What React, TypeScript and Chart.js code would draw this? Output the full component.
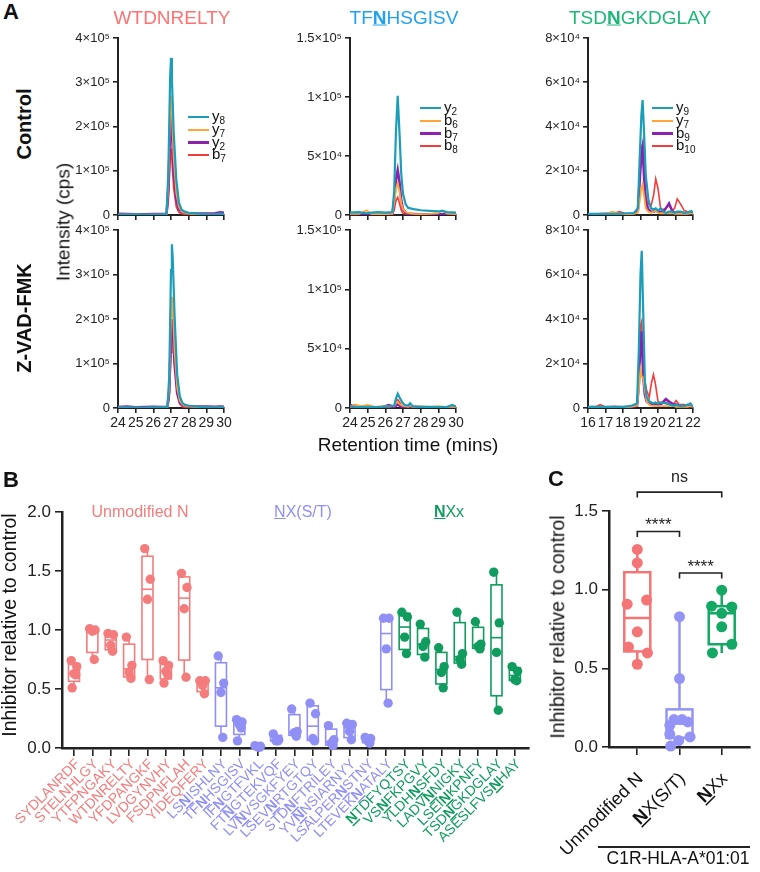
import React, { useEffect, useRef } from 'react';
import { Chart, registerables } from 'chart.js';
Chart.register(...registerables);

const FONT = '"Liberation Sans", Arial, Helvetica, sans-serif';
Chart.defaults.font.family = FONT;
Chart.defaults.color = '#222';

// ---------------- Panel A data (retention time, intensity in cps) ----------------
const TRACE_COLORS = ['#1C9DB9', '#FFA53A', '#8B22AA', '#F23C3C'];
const TRACE_WIDTHS = [2.2, 1.8, 2.6, 1.6];

const A_TITLES = ['WTDNRELTY', 'TFNHSGISV', 'TSDNGKDGLAY'];
const A_TITLE_BOLD = [-1, 2, 3];
const A_TITLE_COLORS = ['#FF7272', '#1FA2F0', '#1DB877'];
const A_ION_NAMES = [['y', 'y', 'y', 'b'], ['y', 'b', 'b', 'b'], ['y', 'y', 'b', 'b']];
const A_ION_SUBS = [['8', '7', '2', '7'], ['2', '6', '7', '8'], ['9', '7', '9', '10']];
const A_XMIN = [24, 24, 16];
const A_XMAX = [30, 30, 22];
const A_YMAX = [400000, 150000, 80000];
const A_YSTEP = [100000, 50000, 20000];

// WTDNRELTY control
const P1C_T = [24, 24.5, 25, 25.5, 26, 26.5, 26.75, 26.85, 26.95, 27.0, 27.05, 27.15, 27.3, 27.45, 27.6, 27.8, 28.0, 28.5, 29, 29.5, 29.8, 30];
const P1C_Y8 = [1500, 1000, 1200, 800, 1000, 1500, 3000, 100000, 310000, 355000, 310000, 190000, 80000, 28000, 12000, 7000, 5000, 3000, 2000, 1500, 3000, 2000];
const P1C_Y7 = [800, 600, 900, 500, 700, 1000, 2000, 75000, 235000, 270000, 230000, 130000, 50000, 18000, 8000, 5000, 3000, 2000, 1500, 1000, 2000, 1500];
const P1C_Y2 = [2500, 2000, 1500, 1800, 2200, 2000, 2500, 60000, 190000, 230000, 195000, 100000, 35000, 13000, 7000, 5000, 4000, 3500, 3000, 4000, 6000, 5000];
const P1C_B7 = [500, 400, 600, 300, 500, 600, 1000, 30000, 120000, 150000, 125000, 60000, 18000, 6000, 3000, 2000, 1500, 1000, 800, 700, 1000, 800];
// WTDNRELTY Z-VAD-FMK
const P1Z_T = [24, 24.5, 25, 25.5, 26, 26.5, 26.8, 26.9, 27.0, 27.05, 27.1, 27.2, 27.35, 27.5, 27.65, 27.8, 28.0, 28.5, 29, 29.5, 29.8, 30];
const P1Z_Y8 = [1000, 1500, 800, 1000, 1200, 1500, 3000, 70000, 310000, 368000, 335000, 210000, 75000, 26000, 11000, 7000, 5000, 3000, 2000, 1500, 1500, 2000];
const P1Z_Y7 = [800, 600, 900, 500, 700, 1000, 2000, 45000, 205000, 250000, 230000, 130000, 45000, 16000, 8000, 5000, 3500, 2000, 1500, 1000, 1500, 1500];
const P1Z_Y2 = [2000, 3000, 1500, 2000, 2500, 2000, 2500, 38000, 165000, 200000, 185000, 100000, 33000, 12000, 7000, 5000, 4000, 3500, 3000, 2500, 3000, 2500];
const P1Z_B7 = [500, 400, 600, 300, 500, 600, 1000, 22000, 125000, 172000, 176000, 150000, 35000, 9000, 3000, 2000, 1500, 1000, 800, 700, 1000, 800];
// TFNHSGISV control
const P2C_T = [24, 24.5, 24.95, 25.2, 25.6, 26, 26.4, 26.5, 26.6, 26.7, 26.8, 26.9, 27.0, 27.15, 27.3, 27.6, 28, 28.5, 29, 29.2, 29.5, 30];
const P2C_Y2 = [2000, 2500, 1500, 2000, 2500, 2000, 2500, 20000, 70000, 101000, 70000, 35000, 18000, 9000, 6000, 5000, 4000, 3500, 3000, 3500, 2500, 2000];
const P2C_B6 = [1000, 1000, 4000, 800, 1000, 800, 1000, 10000, 22000, 27000, 20000, 10000, 5000, 2500, 1500, 1000, 800, 1000, 1500, 4000, 1200, 800];
const P2C_B7 = [500, 500, 500, 500, 500, 500, 800, 12000, 30000, 38000, 28000, 12000, 5000, 2000, 1000, 800, 600, 600, 500, 500, 500, 500];
const P2C_B8 = [300, 300, 300, 300, 300, 300, 500, 4000, 12000, 15000, 10000, 4000, 1500, 800, 500, 400, 300, 300, 300, 300, 300, 300];
// TFNHSGISV Z-VAD-FMK
const P2Z_T = [24, 24.3, 24.6, 25, 25.4, 25.8, 26.2, 26.5, 26.6, 26.7, 26.8, 26.95, 27.1, 27.3, 27.4, 27.55, 28, 28.5, 29, 29.5, 29.8, 30];
const P2Z_Y2 = [1500, 1000, 800, 1000, 800, 1000, 1500, 2000, 8000, 12000, 9000, 5000, 2500, 2000, 4000, 1500, 1000, 1000, 800, 1000, 2500, 1000];
const P2Z_B6 = [1000, 3000, 1500, 2500, 1000, 1500, 1500, 1500, 4000, 5000, 3500, 2000, 1500, 1000, 2000, 1000, 1500, 1000, 1500, 1000, 1000, 800];
const P2Z_B7 = [2500, 1000, 800, 800, 600, 600, 2500, 800, 2000, 3000, 2000, 1000, 800, 600, 1000, 600, 500, 500, 500, 500, 500, 500];
const P2Z_B8 = [500, 500, 500, 500, 500, 500, 500, 1500, 6000, 7000, 5000, 2000, 1000, 500, 500, 500, 500, 500, 500, 500, 500, 500];
// TSDNGKDGLAY control
const P3C_T = [16, 16.5, 17, 17.4, 17.8, 18.2, 18.6, 18.85, 18.95, 19.05, 19.12, 19.2, 19.3, 19.45, 19.6, 19.75, 19.87, 20.0, 20.15, 20.3, 20.45, 20.63, 20.8, 20.95, 21.1, 21.3, 21.5, 21.7, 21.9, 22];
const P3C_Y9 = [500, 500, 500, 500, 500, 800, 800, 3000, 25000, 45000, 52000, 38000, 18000, 7000, 3000, 2500, 3000, 2000, 3000, 1500, 1000, 1500, 1500, 1000, 1500, 1500, 1000, 1200, 1800, 800];
const P3C_Y7 = [300, 300, 500, 1500, 500, 300, 500, 1000, 6000, 12000, 13800, 9000, 3000, 1500, 1000, 1500, 2000, 1000, 800, 800, 800, 800, 800, 500, 500, 500, 500, 500, 800, 500];
const P3C_B9 = [300, 300, 300, 300, 300, 300, 500, 2000, 15000, 28000, 31000, 18000, 6000, 2500, 1500, 1500, 2000, 1500, 1500, 1500, 3000, 5200, 2000, 1000, 1000, 1000, 800, 800, 1200, 800];
const P3C_B10 = [500, 500, 800, 600, 1500, 500, 800, 2000, 15000, 30000, 32000, 20000, 8000, 5000, 4000, 9000, 16300, 12000, 3000, 2500, 3000, 5000, 2000, 3000, 7300, 4800, 2000, 1500, 1500, 800];
// TSDNGKDGLAY Z-VAD-FMK
const P3Z_T = [16, 16.5, 16.7, 17, 17.5, 18, 18.4, 18.8, 18.9, 19.0, 19.07, 19.15, 19.25, 19.35, 19.5, 19.62, 19.74, 19.85, 20.0, 20.2, 20.45, 20.7, 20.9, 21.04, 21.2, 21.5, 21.7, 21.85, 22];
const P3Z_Y9 = [500, 500, 500, 500, 500, 500, 800, 2000, 25000, 60000, 70700, 45000, 12000, 5000, 3000, 2500, 2000, 2500, 2000, 2500, 2000, 1500, 1000, 1500, 1000, 1000, 1500, 2100, 500];
const P3Z_Y7 = [300, 300, 300, 300, 300, 300, 500, 1000, 8000, 17300, 14000, 13800, 8000, 3000, 1500, 1000, 1000, 800, 800, 800, 800, 800, 800, 500, 500, 500, 500, 800, 500];
const P3Z_B9 = [300, 300, 300, 300, 300, 300, 500, 1000, 10000, 30000, 34400, 15000, 6000, 3000, 2000, 1500, 1500, 2000, 1500, 2000, 4000, 2500, 1500, 1500, 1000, 800, 800, 1000, 500];
const P3Z_B10 = [500, 800, 1500, 500, 800, 500, 500, 1000, 12000, 37000, 39000, 20000, 12000, 8000, 4800, 11000, 15000, 11000, 3000, 2000, 2500, 1500, 2000, 3300, 1500, 1500, 1000, 1000, 500];

// ---------------- Panel B data ----------------
const GROUP_COLORS = ['#F47C7C', '#8F8FF6', '#109C5E'];
const B_LABELS = ['SYDLANRDF', 'STELNHLGY', 'YTFPNGAKY', 'WTDNRELTY', 'YFDPANGKF', 'LVDGYNVHY', 'FSDPNFLAH', 'YIDEQFERY',
  'LSNISHLNY', 'TFNHSGISV', 'IFNGTFVKL', 'FTNGTEKVQF', 'LVNVSGKFYEY', 'LSEVNRTGTQY', 'STDNFTRILEY', 'YVNNSIARNYY', 'LSALPERNSTNY', 'LTEVEKNATALY',
  'NTDFYQTSY', 'VSNFKPGVY', 'YLDHNSFDY', 'LADVNNIGKY', 'LSEINKPNFY', 'TSDNGKDGLAY', 'ASESLFVSNHAY'];
const B_BOLD = [-1, -1, -1, -1, -1, -1, -1, -1, 2, 2, 2, 2, 2, 4, 3, 2, 7, 6, 0, 2, 4, 4, 4, 3, 8];
const B_GROUP = [0, 0, 0, 0, 0, 0, 0, 0, 1, 1, 1, 1, 1, 1, 1, 1, 1, 1, 2, 2, 2, 2, 2, 2, 2];
const B_VALUES = [
  [0.74, 0.69, 0.63, 0.62, 0.51],
  [1.01, 1.0, 0.99, 0.75],
  [0.97, 0.96, 0.87, 0.82],
  [0.94, 0.7, 0.64, 0.59],
  [1.69, 1.43, 1.26, 0.58],
  [0.74, 0.7, 0.65, 0.62, 0.55],
  [1.48, 1.36, 1.18, 0.6],
  [0.57, 0.57, 0.53, 0.46],
  [0.78, 0.55, 0.47, 0.09],
  [0.24, 0.22, 0.2, 0.17, 0.06],
  [0.02, 0.015, 0.01, 0.005],
  [0.12, 0.07, 0.06, 0.06],
  [0.33, 0.14, 0.13, 0.1],
  [0.38, 0.29, 0.08, 0.06],
  [0.19, 0.07, 0.04, 0.02],
  [0.21, 0.2, 0.14, 0.07],
  [0.09, 0.08, 0.06, 0.04],
  [1.1, 1.1, 0.84, 0.38],
  [1.15, 1.11, 0.94, 0.8],
  [1.05, 0.9, 0.86, 0.77],
  [0.85, 0.69, 0.64, 0.51],
  [1.15, 0.8, 0.75, 0.71],
  [1.07, 0.88, 0.86, 0.84],
  [1.49, 1.06, 0.81, 0.32],
  [0.69, 0.65, 0.58, 0.57],
];
const B_JITTER = [-0.15, 0.15, 0, 0.1, -0.1];
const B_Y_TICKS = [0, 0.5, 1.0, 1.5, 2.0];
const B_GROUP_TITLES = ['Unmodified N', 'NX(S/T)', 'NXx'];

// ---------------- Panel C data ----------------
const C_LABELS = ['Unmodified N', 'NX(S/T)', 'NXx'];
const C_BOLD = [-1, 0, 0];
const C_COLORS = ['#F47575', '#9494F7', '#13A864'];
const C_UNMOD = [1.256, 1.17, 0.908, 0.934, 0.732, 0.636, 0.598, 0.526];
const C_UNMOD_J = [0, 0, -0.24, 0.22, 0, -0.21, 0.24, 0];
const C_NXST = [0.828, 0.435, 0.174, 0.174, 0.159, 0.138, 0.081, 0.064, 0.042, 0.006];
const C_NXST_J = [0, 0, -0.13, 0.06, 0.2, -0.23, -0.23, 0.25, -0.02, -0.21];
const C_NXX = [0.997, 0.895, 0.89, 0.85, 0.764, 0.653, 0.598];
const C_NXX_J = [0, -0.24, 0.24, 0, 0, 0.24, -0.22];
const C_Y_TICKS = [0, 0.5, 1.0, 1.5];
const C_SIG_FROM = [0, 1, 0];
const C_SIG_TO = [1, 2, 2];
const C_SIG_Y = [1.37, 1.106, 1.62];
const C_SIG_TEXT = ['****', '****', 'ns'];

// ---------------- helpers ----------------
type Rect = { x: number; y: number; w: number; h: number };
type Plot = { l: number; t: number; r: number; b: number };

function frame(c: Rect, p: Plot) {
  return {
    padding: { left: 0, top: p.t - c.y, right: c.x + c.w - p.r, bottom: 0 },
    yW: p.l - c.x,
    xH: c.y + c.h - p.b,
  };
}

const SUP: Record<string, string> = { '0': '⁰', '1': '¹', '2': '²', '3': '³', '4': '⁴', '5': '⁵', '6': '⁶', '7': '⁷', '8': '⁸', '9': '⁹' };
function sci(v: number) {
  if (v === 0) return '0';
  const e = Math.floor(Math.log10(v) + 1e-9);
  const m = +(v / Math.pow(10, e)).toFixed(2);
  return `${m}×10${String(e).split('').map((c) => SUP[c]).join('')}`;
}

function quant(s: number[], p: number) {
  const n = s.length;
  const pos = p * (n + 1);
  if (pos <= 1) return s[0];
  if (pos >= n) return s[n - 1];
  const lo = Math.floor(pos);
  return s[lo - 1] + (pos - lo) * (s[lo] - s[lo - 1]);
}

function axisStyle(tickLen: number, bw: number) {
  return {
    border: { display: true, color: '#222', width: bw },
    grid: { display: true, drawOnChartArea: false, drawTicks: true, tickLength: tickLen, color: '#222', lineWidth: 1.6 },
  };
}

function ChartCanvas({ rect, build }: { rect: Rect; build: () => any }) {
  const ref = useRef<HTMLCanvasElement>(null);
  useEffect(() => {
    const chart = new Chart(ref.current as HTMLCanvasElement, build());
    return () => chart.destroy();
  }, []);
  return (
    <div style={{ position: 'absolute', left: rect.x, top: rect.y, width: rect.w, height: rect.h }}>
      <canvas ref={ref} width={rect.w} height={rect.h} style={{ width: rect.w, height: rect.h, display: 'block' }} />
    </div>
  );
}

function chromConfig(col: number, times: number[], series: number[][], showX: boolean, c: Rect, p: Plot) {
  const f = frame(c, p);
  return {
    type: 'line',
    data: {
      datasets: series.map((vals, k) => ({
        data: times.map((t, i) => ({ x: t, y: vals[i] })),
        borderColor: TRACE_COLORS[k],
        borderWidth: TRACE_WIDTHS[k],
        pointRadius: 0,
        tension: 0,
        fill: false,
      })),
    },
    options: {
      animation: false,
      responsive: false,
      maintainAspectRatio: false,
      events: [],
      layout: { padding: f.padding },
      plugins: { legend: { display: false }, tooltip: { enabled: false } },
      scales: {
        x: {
          type: 'linear',
          min: A_XMIN[col],
          max: A_XMAX[col],
          ...axisStyle(5, 2),
          ticks: { display: showX, stepSize: 1, autoSkip: false, maxRotation: 0, font: { size: 14 }, color: '#222', padding: 2 },
          afterFit: (s: any) => { s.height = f.xH; s.paddingLeft = 0; s.paddingRight = 0; },
        },
        y: {
          min: 0,
          max: A_YMAX[col],
          ...axisStyle(5, 2),
          ticks: { stepSize: A_YSTEP[col], autoSkip: false, callback: (v: number) => sci(v), font: { size: 13 }, color: '#222', padding: 3 },
          afterFit: (s: any) => { s.width = f.yW; s.paddingTop = 0; s.paddingBottom = 0; },
        },
      },
    },
  };
}

function boxPlugin(cats: number[][], colors: string[], halfPx: number, lw: number) {
  return {
    id: 'boxes',
    beforeDatasetsDraw(chart: any) {
      const { ctx, scales } = chart;
      const x = scales.x, y = scales.y;
      ctx.save();
      cats.forEach((vals, i) => {
        const s = [...vals].sort((a, b) => a - b);
        const q1 = quant(s, 0.25), med = quant(s, 0.5), q3 = quant(s, 0.75);
        const cx = x.getPixelForValue(i);
        ctx.strokeStyle = colors[i];
        ctx.lineWidth = lw;
        ctx.beginPath();
        ctx.moveTo(cx, y.getPixelForValue(s[0]));
        ctx.lineTo(cx, y.getPixelForValue(q1));
        ctx.moveTo(cx, y.getPixelForValue(q3));
        ctx.lineTo(cx, y.getPixelForValue(s[s.length - 1]));
        ctx.stroke();
        const top = y.getPixelForValue(q3), bot = y.getPixelForValue(q1);
        ctx.strokeRect(cx - halfPx, top, 2 * halfPx, bot - top);
        const my = y.getPixelForValue(med);
        ctx.beginPath();
        ctx.moveTo(cx - halfPx, my);
        ctx.lineTo(cx + halfPx, my);
        ctx.stroke();
      });
      ctx.restore();
    },
  };
}

function labelPlugin(labels: string[], bold: number[], colors: string[], size: number, dx: number, dy: number) {
  return {
    id: 'xlabels',
    afterDraw(chart: any) {
      const { ctx, scales, chartArea } = chart;
      const normal = `${size}px ${FONT}`;
      const bf = `bold ${size}px ${FONT}`;
      const capH = size * 0.716;
      labels.forEach((lab, i) => {
        const ax = scales.x.getPixelForValue(i) + dx;
        const ay = chartArea.bottom + dy;
        const bi = bold[i];
        const parts: [string, string, boolean][] = bi >= 0
          ? [[lab.slice(0, bi), normal, false], [lab[bi], bf, true], [lab.slice(bi + 1), normal, false]]
          : [[lab, normal, false]];
        ctx.save();
        ctx.translate(ax, ay);
        ctx.rotate(-Math.PI / 4);
        ctx.fillStyle = colors[i];
        ctx.textAlign = 'left';
        ctx.textBaseline = 'alphabetic';
        const widths = parts.map(([t, f]) => { ctx.font = f; return ctx.measureText(t).width; });
        let cur = -widths.reduce((a, b) => a + b, 0);
        parts.forEach(([t, f, u], k) => {
          ctx.font = f;
          ctx.fillText(t, cur, capH / 2);
          if (u) ctx.fillRect(cur, capH / 2 + 1.5, widths[k], 1.5);
          cur += widths[k];
        });
        ctx.restore();
      });
    },
  };
}

function sigPlugin() {
  return {
    id: 'sig',
    afterDraw(chart: any) {
      const { ctx, scales } = chart;
      ctx.save();
      ctx.strokeStyle = '#222';
      ctx.fillStyle = '#222';
      ctx.lineWidth = 1.6;
      ctx.textAlign = 'center';
      ctx.textBaseline = 'alphabetic';
      C_SIG_TEXT.forEach((txt, i) => {
        const xa = scales.x.getPixelForValue(C_SIG_FROM[i]);
        const xb = scales.x.getPixelForValue(C_SIG_TO[i]);
        const yy = scales.y.getPixelForValue(C_SIG_Y[i]);
        ctx.beginPath();
        ctx.moveTo(xa, yy + 5.5);
        ctx.lineTo(xa, yy);
        ctx.lineTo(xb, yy);
        ctx.lineTo(xb, yy + 5.5);
        ctx.stroke();
        const star = txt.indexOf('*') >= 0;
        ctx.font = `${star ? 17 : 16}px ${FONT}`;
        ctx.fillText(txt, (xa + xb) / 2, yy - (star ? 1 : 10));
      });
      ctx.restore();
    },
  };
}

function boxChartConfig(opts: {
  c: Rect; p: Plot; xmin: number; xmax: number; ymax: number; yticks: number[];
  cats: number[][]; catColors: string[]; groups: { pts: { x: number; y: number }[]; color: string }[];
  halfPx: number; lw: number; radius: number; labels: string[]; bold: number[]; labelColors: string[];
  labelSize: number; ldx: number; ldy: number; extra: any[];
}) {
  const f = frame(opts.c, opts.p);
  return {
    type: 'scatter',
    data: {
      datasets: opts.groups.map((g) => ({
        data: g.pts,
        backgroundColor: g.color,
        borderWidth: 0,
        pointRadius: opts.radius,
        clip: false,
      })),
    },
    options: {
      animation: false,
      responsive: false,
      maintainAspectRatio: false,
      events: [],
      layout: { padding: f.padding },
      plugins: { legend: { display: false }, tooltip: { enabled: false } },
      scales: {
        x: {
          type: 'linear',
          min: opts.xmin,
          max: opts.xmax,
          ...axisStyle(8, 2.5),
          ticks: { display: false },
          afterBuildTicks: (s: any) => { s.ticks = opts.labels.map((_, i) => ({ value: i })); },
          afterFit: (s: any) => { s.height = f.xH; s.paddingLeft = 0; s.paddingRight = 0; },
        },
        y: {
          min: 0,
          max: opts.ymax,
          ...axisStyle(7, 2.5),
          ticks: { autoSkip: false, callback: (v: number) => v.toFixed(1), font: { size: 17 }, color: '#222', padding: 4 },
          afterBuildTicks: (s: any) => { s.ticks = opts.yticks.map((v) => ({ value: v })); },
          afterFit: (s: any) => { s.width = f.yW; s.paddingTop = 0; s.paddingBottom = 0; },
        },
      },
    },
    plugins: [
      boxPlugin(opts.cats, opts.catColors, opts.halfPx, opts.lw),
      labelPlugin(opts.labels, opts.bold, opts.labelColors, opts.labelSize, opts.ldx, opts.ldy),
      ...opts.extra,
    ],
  };
}

function Label(props: { x: number; y: number; rot?: number; size: number; weight?: number; color?: string; children: any }) {
  const { x, y, rot = 0, size, weight = 400, color = '#111', children } = props;
  return (
    <div style={{
      position: 'absolute', left: x, top: y, transform: `translate(-50%,-50%) rotate(${rot}deg)`,
      fontSize: size, fontWeight: weight, color, whiteSpace: 'nowrap', lineHeight: 1, fontFamily: FONT,
    }}>{children}</div>
  );
}

function Seq({ text, bold, underlineOnly }: { text: string; bold: number; underlineOnly?: boolean }) {
  if (bold < 0) return <>{text}</>;
  return (
    <>
      {text.slice(0, bold)}
      <span style={{ fontWeight: underlineOnly ? 400 : 700, textDecoration: 'underline' }}>{text[bold]}</span>
      {text.slice(bold + 1)}
    </>
  );
}

function Legend({ x, y, col }: { x: number; y: number; col: number }) {
  return (
    <>
      {A_ION_NAMES[col].map((n, k) => (
        <div key={k} style={{ position: 'absolute', left: x, top: y + k * 12.8 - 7, height: 14, display: 'flex', alignItems: 'center', fontFamily: FONT }}>
          <div style={{ width: 21, height: k === 2 ? 3 : 2.2, background: TRACE_COLORS[k] }} />
          <span style={{ marginLeft: 3, fontSize: 15, lineHeight: '14px', color: '#111' }}>
            {n}<sub style={{ fontSize: 10, verticalAlign: 'baseline', position: 'relative', top: 3 }}>{A_ION_SUBS[col][k]}</sub>
          </span>
        </div>
      ))}
    </>
  );
}

// ---------------- layout ----------------
const A_PLOT_L = [118, 350, 588];
const A_PLOT_R = [224, 456, 693];
const A_ROW_T = [38, 230];
const A_ROW_B = [215, 408];

const A_SERIES: { t: number[]; s: number[][] }[][] = [
  [{ t: P1C_T, s: [P1C_Y8, P1C_Y7, P1C_Y2, P1C_B7] }, { t: P1Z_T, s: [P1Z_Y8, P1Z_Y7, P1Z_Y2, P1Z_B7] }],
  [{ t: P2C_T, s: [P2C_Y2, P2C_B6, P2C_B7, P2C_B8] }, { t: P2Z_T, s: [P2Z_Y2, P2Z_B6, P2Z_B7, P2Z_B8] }],
  [{ t: P3C_T, s: [P3C_Y9, P3C_Y7, P3C_B9, P3C_B10] }, { t: P3Z_T, s: [P3Z_Y9, P3Z_Y7, P3Z_B9, P3Z_B10] }],
];

const B_CANVAS: Rect = { x: 0, y: 490, w: 545, h: 382 };
const B_PLOT: Plot = { l: 62, t: 512, r: 529, b: 748 };
const C_CANVAS: Rect = { x: 560, y: 462, w: 200, h: 410 };
const C_PLOT: Plot = { l: 609, t: 511, r: 750, b: 747 };

function buildB() {
  const groups = GROUP_COLORS.map((color, g) => ({
    color,
    pts: B_VALUES.flatMap((vals, i) => (B_GROUP[i] === g ? vals.map((v, k) => ({ x: i + B_JITTER[k % B_JITTER.length], y: v })) : [])),
  }));
  const catColors = B_GROUP.map((g) => GROUP_COLORS[g]);
  return boxChartConfig({
    c: B_CANVAS, p: B_PLOT, xmin: -0.653, xmax: 24.77, ymax: 2, yticks: B_Y_TICKS,
    cats: B_VALUES, catColors, groups, halfPx: 5.5, lw: 1.6, radius: 4.7,
    labels: B_LABELS, bold: B_BOLD, labelColors: catColors, labelSize: 14, ldx: 3, ldy: 13, extra: [],
  });
}

function buildC() {
  const sets = [[C_UNMOD, C_UNMOD_J], [C_NXST, C_NXST_J], [C_NXX, C_NXX_J]];
  const groups = sets.map(([vals, jit], g) => ({ color: C_COLORS[g], pts: vals.map((v, k) => ({ x: g + jit[k], y: v })) }));
  return boxChartConfig({
    c: C_CANVAS, p: C_PLOT, xmin: -0.67, xmax: 2.67, ymax: 1.5, yticks: C_Y_TICKS,
    cats: [C_UNMOD, C_NXST, C_NXX], catColors: C_COLORS, groups, halfPx: 13, lw: 2.5, radius: 5.5,
    labels: C_LABELS, bold: C_BOLD, labelColors: ['#111', '#111', '#111'], labelSize: 18, ldx: 2, ldy: 28, extra: [sigPlugin()],
  });
}

export default function App() {
  const aCharts: any[] = [];
  for (let col = 0; col < 3; col++) {
    for (let row = 0; row < 2; row++) {
      const p: Plot = { l: A_PLOT_L[col], t: A_ROW_T[row], r: A_PLOT_R[col], b: A_ROW_B[row] };
      const c: Rect = { x: p.l - 60, y: p.t - 12, w: p.r - p.l + 80, h: p.b - p.t + 40 };
      const d = A_SERIES[col][row];
      aCharts.push(<ChartCanvas key={`a${col}${row}`} rect={c} build={() => chromConfig(col, d.t, d.s, row === 1, c, p)} />);
    }
  }
  return (
    <div style={{ position: 'absolute', left: 0, top: 0, width: 760, height: 872, background: '#fff', overflow: 'hidden', fontFamily: FONT }}>
      {aCharts}
      <ChartCanvas rect={B_CANVAS} build={buildB} />
      <ChartCanvas rect={C_CANVAS} build={buildC} />

      <Label x={11} y={12} size={22} weight={700}>A</Label>
      <Label x={11} y={480} size={22} weight={700}>B</Label>
      <Label x={556} y={479} size={22} weight={700}>C</Label>

      {A_TITLES.map((t, i) => (
        <Label key={t} x={[172, 404, 640][i]} y={17} size={19} color={A_TITLE_COLORS[i]}>
          <Seq text={t} bold={A_TITLE_BOLD[i]} />
        </Label>
      ))}
      <Legend x={188} y={117} col={0} />
      <Legend x={420} y={108} col={1} />
      <Legend x={652} y={108} col={2} />

      <Label x={24} y={124} rot={-90} size={20} weight={700}>Control</Label>
      <Label x={24} y={318} rot={-90} size={20} weight={700}>Z-VAD-FMK</Label>
      <Label x={63} y={222} rot={-90} size={19}>Intensity (cps)</Label>
      <Label x={408} y={444} size={19}>Retention time (mins)</Label>

      <Label x={140} y={512} size={16} color={GROUP_COLORS[0]}>{B_GROUP_TITLES[0]}</Label>
      <Label x={303} y={512} size={16} color={GROUP_COLORS[1]}><Seq text={B_GROUP_TITLES[1]} bold={0} underlineOnly /></Label>
      <Label x={449} y={512} size={16} color={GROUP_COLORS[2]}><Seq text={B_GROUP_TITLES[2]} bold={0} /></Label>
      <Label x={10} y={625} rot={-90} size={19.5}>Inhibitor relative to control</Label>

      <Label x={558} y={627} rot={-90} size={19.5}>Inhibitor relative to control</Label>
      <div style={{ position: 'absolute', left: 598, top: 846, width: 152, height: 1.5, background: '#222' }} />
      <Label x={678} y={859} size={17.5}>C1R-HLA-A*01:01</Label>
    </div>
  );
}
